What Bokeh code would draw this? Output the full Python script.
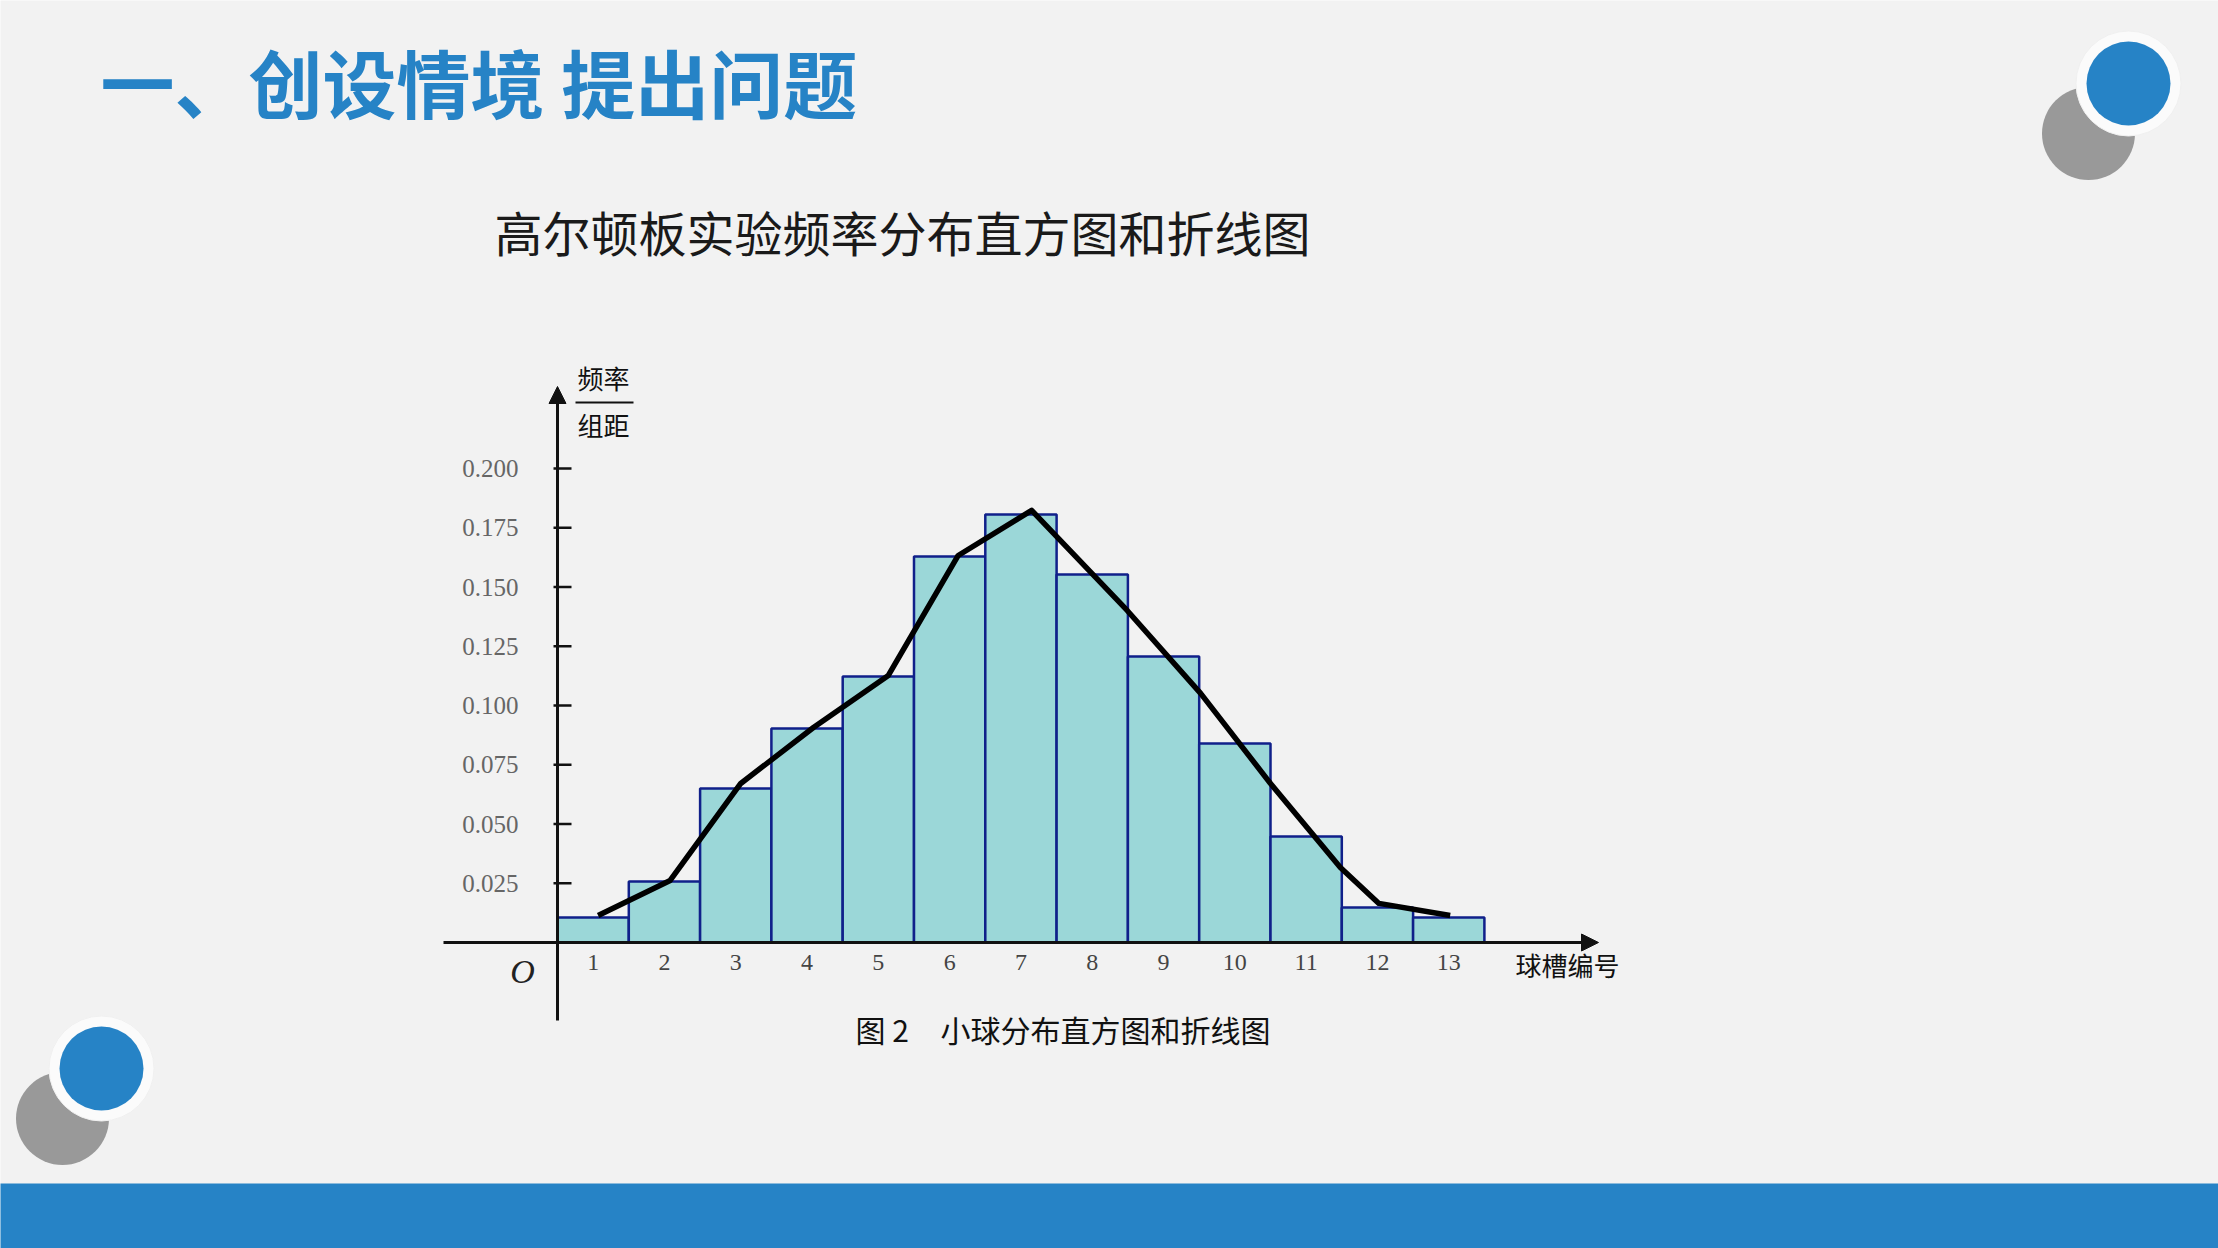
from bokeh.plotting import figure
from bokeh.models import Range1d, Arrow, NormalHead
from bokeh.core.properties import value
from bokeh.embed import file_html
from bokeh.resources import INLINE

# ---------------- data ----------------
slots = [1, 2, 3, 4, 5, 6, 7, 8, 9, 10, 11, 12, 13]
slot_labels = ["1", "2", "3", "4", "5", "6", "7", "8", "9", "10", "11", "12", "13"]
freq_density = [0.0105, 0.0257, 0.0650, 0.0903, 0.1122, 0.1629, 0.1806,
                0.1553, 0.1207, 0.0840, 0.0447, 0.0148, 0.0105]
poly_x = [1.07, 2.08, 3.07, 4.09, 5.14, 6.12, 7.15, 8.49, 9.52, 10.50, 11.48, 12.02, 13.02]
poly_y = [0.0114, 0.0262, 0.0671, 0.0907, 0.1127, 0.1633, 0.1823,
          0.1401, 0.1051, 0.0671, 0.0316, 0.0165, 0.0114]
y_ticks = [0.025, 0.050, 0.075, 0.100, 0.125, 0.150, 0.175, 0.200]
y_tick_labels = ["0.025", "0.050", "0.075", "0.100", "0.125", "0.150", "0.175", "0.200"]

page_title = "一、创设情境 提出问题"
chart_title = "高尔顿板实验频率分布直方图和折线图"
y_label_top = "频率"
y_label_bottom = "组距"
x_label = "球槽编号"
caption_no = "图 2"
caption_text = "小球分布直方图和折线图"

# ---------------- page geometry ----------------
W, H = 2218, 1248
PX_X = 71.3      # pixels per slot
PX_Y = 2370.0    # pixels per unit of frequency/width
OX, OY = 557, 942  # pixel position of the origin (from top-left)
x_start = 0.5 - OX / PX_X
x_end = x_start + W / PX_X
y_start = -(H - OY) / PX_Y
y_end = y_start + H / PX_Y


def X(px):
    return x_start + px / PX_X


def Y(py):
    return y_end - py / PX_Y


BLUE = "#2683C6"
BG = "#F2F2F2"
CJK = value("Noto Sans CJK SC")
SERIF = value("Liberation Serif")

p = figure(width=W, height=H, x_range=Range1d(x_start, x_end), y_range=Range1d(y_start, y_end),
           x_axis_type=None, y_axis_type=None, title=None, min_border=0,
           toolbar_location=None, output_backend="svg")
p.background_fill_color = BG
p.border_fill_color = BG
p.outline_line_color = None
p.grid.visible = False

# ---------------- decorations ----------------
p.quad(left=[X(-10)], right=[X(W + 10)], bottom=[Y(H + 10)], top=[Y(1183)], color=BLUE, line_color=None)

for (gx, gy, bx, by) in [(2088, 133, 2128, 83), (62, 1118, 101, 1068)]:
    p.scatter(x=[X(gx)], y=[Y(gy)], size=93, marker="circle", fill_color="#999999", line_color=None)
    p.scatter(x=[X(bx)], y=[Y(by)], size=105, marker="circle", fill_color="#FBFBFB", line_color="#F0F0F0", line_width=1)
    p.scatter(x=[X(bx)], y=[Y(by)], size=84, marker="circle", fill_color=BLUE, line_color=None)

p.text(x=[X(100)], y=[Y(80)], text=[page_title], text_font=CJK, text_font_style="bold",
       text_font_size="74px", text_color=BLUE, text_align="left", text_baseline="middle")
p.text(x=[X(494)], y=[Y(230)], text=[chart_title], text_font=CJK,
       text_font_size="48px", text_color="#1A1A1A", text_align="left", text_baseline="middle")

# ---------------- histogram ----------------
p.vbar(x=slots, top=freq_density, bottom=0, width=1.0, fill_color="#9BD7D8",
       line_color="#10208A", line_width=2.5)
p.line(x=poly_x, y=poly_y, line_color="black", line_width=5.5, line_join="round")

# axes
p.add_layout(Arrow(x_start=X(443), y_start=0, x_end=X(1598), y_end=0, line_width=3, line_color="#111111",
                   end=NormalHead(size=17, fill_color="#111111", line_color="#111111", line_width=1)))
p.add_layout(Arrow(x_start=0.5, y_start=Y(1020), x_end=0.5, y_end=Y(386), line_width=3, line_color="#111111",
                   end=NormalHead(size=17, fill_color="#111111", line_color="#111111", line_width=1)))

n = len(y_ticks)
p.segment(x0=[0.5 - 4 / PX_X] * n, y0=y_ticks, x1=[0.5 + 14 / PX_X] * n, y1=y_ticks,
          line_color="#111111", line_width=2.5)
p.text(x=[X(518)] * n, y=y_ticks, text=y_tick_labels, text_font=SERIF, text_font_size="25px",
       text_color="#666666", text_align="right", text_baseline="middle")
p.text(x=slots, y=[Y(962)] * len(slots), text=slot_labels, text_font=SERIF, text_font_size="24px",
       text_color="#444444", text_align="center", text_baseline="middle")
p.text(x=[X(522)], y=[Y(971)], text=["O"], text_font=SERIF, text_font_style="italic",
       text_font_size="34px", text_color="#222222", text_align="center", text_baseline="middle")

# y label as a fraction
p.text(x=[X(577), X(577)], y=[Y(377), Y(424)], text=[y_label_top, y_label_bottom], text_font=CJK,
       text_font_size="26px", text_color="#111111", text_align="left", text_baseline="middle")
p.segment(x0=[X(575)], y0=[Y(402)], x1=[X(633)], y1=[Y(402)], line_color="#111111", line_width=2)

p.text(x=[X(1515)], y=[Y(964)], text=[x_label], text_font=CJK, text_font_size="26px",
       text_color="#111111", text_align="left", text_baseline="middle")

p.text(x=[X(855), X(940)], y=[Y(1028), Y(1028)], text=[caption_no, caption_text], text_font=CJK,
       text_font_size="30px", text_color="#111111", text_align="left", text_baseline="middle")

open("out.html", "w").write(file_html(p, INLINE))
